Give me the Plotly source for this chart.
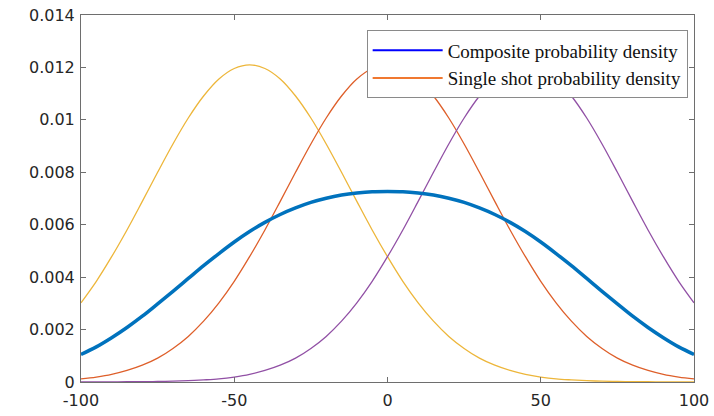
import plotly.graph_objects as go

# x positions (step 5)
x_vals = list(range(-100, 105, 5))

# Single-shot densities
yellow_left = [3.02e-3, 3.84e-3, 4.78e-3, 5.80e-3, 6.89e-3, 8.00e-3, 9.08e-3, 10.07e-3, 10.91e-3, 11.56e-3,
               11.96e-3, 12.10e-3, 11.96e-3, 11.56e-3, 10.91e-3, 10.07e-3, 9.08e-3, 8.00e-3, 6.89e-3, 5.80e-3,
               4.78e-3, 3.84e-3, 3.02e-3, 2.32e-3, 1.74e-3, 1.28e-3, 0.91e-3, 0.64e-3, 0.44e-3, 0.29e-3,
               0.19e-3, 0.12e-3, 0.08e-3, 0.05e-3, 0.03e-3, 0.02e-3, 0.01e-3, 0.01e-3, 0.006e-3, 0.003e-3, 0.001e-3]
orange_center = [0.12e-3, 0.19e-3, 0.29e-3, 0.44e-3, 0.64e-3, 0.91e-3, 1.28e-3, 1.74e-3, 2.32e-3, 3.02e-3,
                 3.84e-3, 4.78e-3, 5.80e-3, 6.89e-3, 8.00e-3, 9.08e-3, 10.07e-3, 10.91e-3, 11.56e-3, 11.96e-3,
                 12.10e-3, 11.96e-3, 11.56e-3, 10.91e-3, 10.07e-3, 9.08e-3, 8.00e-3, 6.89e-3, 5.80e-3, 4.78e-3,
                 3.84e-3, 3.02e-3, 2.32e-3, 1.74e-3, 1.28e-3, 0.91e-3, 0.64e-3, 0.44e-3, 0.29e-3, 0.19e-3, 0.12e-3]
purple_right = [0.001e-3, 0.003e-3, 0.006e-3, 0.01e-3, 0.01e-3, 0.02e-3, 0.03e-3, 0.05e-3, 0.08e-3, 0.12e-3,
                0.19e-3, 0.29e-3, 0.44e-3, 0.64e-3, 0.91e-3, 1.28e-3, 1.74e-3, 2.32e-3, 3.02e-3, 3.84e-3,
                4.78e-3, 5.80e-3, 6.89e-3, 8.00e-3, 9.08e-3, 10.07e-3, 10.91e-3, 11.56e-3, 11.96e-3, 12.10e-3,
                11.96e-3, 11.56e-3, 10.91e-3, 10.07e-3, 9.08e-3, 8.00e-3, 6.89e-3, 5.80e-3, 4.78e-3, 3.84e-3, 3.02e-3]
composite = [1.05e-3, 1.34e-3, 1.69e-3, 2.08e-3, 2.51e-3, 2.98e-3, 3.46e-3, 3.95e-3, 4.44e-3, 4.90e-3,
             5.34e-3, 5.74e-3, 6.09e-3, 6.39e-3, 6.64e-3, 6.85e-3, 7.01e-3, 7.13e-3, 7.21e-3, 7.26e-3,
             7.27e-3, 7.26e-3, 7.21e-3, 7.13e-3, 7.01e-3, 6.85e-3, 6.64e-3, 6.39e-3, 6.09e-3, 5.74e-3,
             5.34e-3, 4.90e-3, 4.44e-3, 3.95e-3, 3.46e-3, 2.98e-3, 2.51e-3, 2.08e-3, 1.69e-3, 1.34e-3, 1.05e-3]

x_ticks = [-100, -50, 0, 50, 100]
y_ticks = [0, 0.002, 0.004, 0.006, 0.008, 0.01, 0.012, 0.014]
y_tick_text = ["0", "0.002", "0.004", "0.006", "0.008", "0.01", "0.012", "0.014"]
legend_names = ["Composite probability density", "Single shot probability density"]

fig = go.Figure()
for ys, col in [(yellow_left, "#EDB63A"), (orange_center, "#DE5F2A"), (purple_right, "#9150A5")]:
    fig.add_trace(go.Scatter(x=x_vals, y=ys, mode="lines", line=dict(color=col, width=1.3, shape="spline"),
                             showlegend=False, hoverinfo="skip"))
fig.add_trace(go.Scatter(x=x_vals, y=composite, mode="lines",
                         line=dict(color="#0072BD", width=3.5, shape="spline"), showlegend=False))
# legend entries
fig.add_trace(go.Scatter(x=[None], y=[None], mode="lines", line=dict(color="#0000FF", width=2),
                         name=legend_names[0]))
fig.add_trace(go.Scatter(x=[None], y=[None], mode="lines", line=dict(color="#F07830", width=2),
                         name=legend_names[1]))

axis_common = dict(showline=True, linecolor="#6e6e6e", linewidth=1, mirror="allticks",
                   ticks="inside", ticklen=5, tickcolor="#6e6e6e", showgrid=False, zeroline=False,
                   automargin=False,
                   tickfont=dict(family="DejaVu Sans, Arial", size=16, color="#262626"))
fig.update_xaxes(range=[-100, 100], tickvals=x_ticks, ticktext=[str(v) for v in x_ticks],
                 ticklabelstandoff=4, **axis_common)
fig.update_yaxes(range=[0, 0.014], tickvals=y_ticks, ticktext=y_tick_text,
                 ticklabelstandoff=2, **axis_common)

fig.update_layout(
    width=714, height=416,
    margin=dict(l=81, r=20, t=15, b=34),
    plot_bgcolor="white", paper_bgcolor="white",
    legend=dict(x=0.466, y=0.958, xanchor="left", yanchor="top",
                bgcolor="white", bordercolor="#8a8a8a", borderwidth=1,
                font=dict(family="Liberation Serif, Times New Roman", size=19, color="#111111"),
                itemwidth=70, tracegroupgap=0),
)

fig.write_html("out.html")
